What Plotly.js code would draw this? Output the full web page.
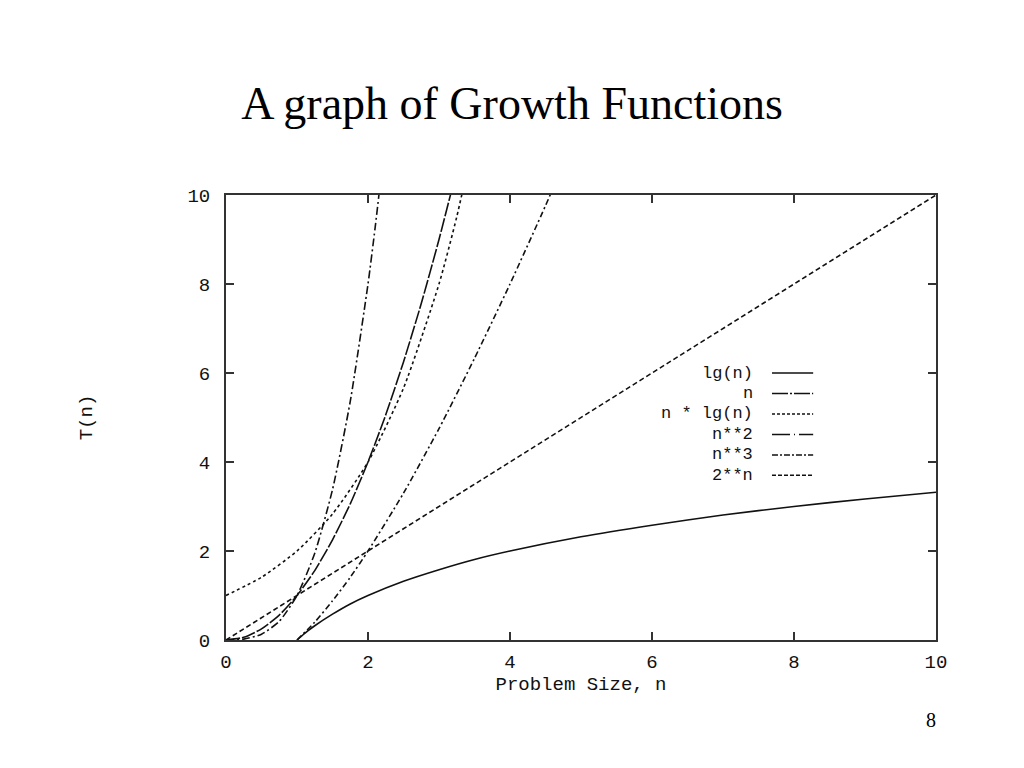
<!DOCTYPE html>
<html>
<head>
<meta charset="utf-8">
<script src="https://cdn.plot.ly/plotly-3.0.1.min.js"></script>
<style>
  html, body { margin: 0; padding: 0; background: #fff; }
  #chart { width: 1024px; height: 768px; }
</style>
</head>
<body>
<div id="chart"></div>
<script>
// ---- data ----
const seriesNames = ["lg(n)", "n", "n * lg(n)", "n**2", "n**3", "2**n"];

const lgX = [1, 1.1, 1.25, 1.5, 1.75, 2, 2.5, 3, 3.5, 4, 5, 6, 7, 8, 9, 10];
const lgY = [0, 0.14, 0.32, 0.58, 0.81, 1, 1.32, 1.58, 1.81, 2, 2.32, 2.58, 2.81, 3, 3.17, 3.32];

const linX = [0, 10];
const linY = [0, 10];

const nlgX = [1, 1.25, 1.5, 1.75, 2, 2.5, 3, 3.5, 4, 4.5, 4.7];
const nlgY = [0, 0.40, 0.88, 1.41, 2, 3.30, 4.75, 6.33, 8, 9.76, 10.5];

const sqX = [0, 0.25, 0.5, 0.75, 1, 1.25, 1.5, 1.75, 2, 2.25, 2.5, 2.75, 3, 3.25];
const sqY = [0, 0.06, 0.25, 0.56, 1, 1.56, 2.25, 3.06, 4, 5.06, 6.25, 7.56, 9, 10.56];

const cubX = [0, 0.25, 0.5, 0.75, 1, 1.25, 1.5, 1.75, 2, 2.1, 2.2];
const cubY = [0, 0.02, 0.13, 0.42, 1, 1.95, 3.38, 5.36, 8, 9.26, 10.65];

const expX = [0, 0.5, 1, 1.5, 2, 2.5, 3, 3.25, 3.5];
const expY = [1, 1.41, 2, 2.83, 4, 5.66, 8, 9.51, 11.31];

const xTicks = [0, 2, 4, 6, 8, 10];
const yTicks = [0, 2, 4, 6, 8, 10];

// ---- styles ----
const dashes = ["solid", "5px,3px", "6px,3px,2px,3px", "14px,2px", "8px,3px,2px,3px", "3px,3px"];
const legendDashes = ["solid", "16px,2px,2px,2px", "3px,2px", "18px,4px,1px,4px", "6px,2px,2px,2px", "4px,2px"];

const xs = [lgX, linX, nlgX, sqX, cubX, expX];
const ys = [lgY, linY, nlgY, sqY, cubY, expY];

const traces = seriesNames.map((name, i) => ({
  type: "scatter",
  mode: "lines",
  name: name,
  x: xs[i],
  y: ys[i],
  line: { color: "#111", width: 1.6, dash: dashes[i], shape: "spline", smoothing: 0.6 },
  showlegend: false,
  hoverinfo: "skip"
}));

const mono = "Liberation Mono, DejaVu Sans Mono, monospace";

// legend (text right-aligned, sample line to the right)
const rowTop = 0.600, rowStep = 0.046;
const annotations = seriesNames.map((name, i) => ({
  xref: "paper", yref: "paper",
  x: 0.743, y: rowTop - i * rowStep,
  xanchor: "right", yanchor: "middle",
  text: name, showarrow: false,
  borderpad: 0,
  font: { family: mono, size: 17, color: "#111" }
}));
const shapes = seriesNames.map((name, i) => ({
  type: "line", xref: "paper", yref: "paper",
  x0: 0.769, x1: 0.827,
  y0: rowTop - i * rowStep, y1: rowTop - i * rowStep,
  line: { color: "#111", width: 1.5, dash: legendDashes[i] }
}));

annotations.push({
  xref: "paper", yref: "paper",
  x: 1.0, y: -0.18,
  xanchor: "left", yanchor: "middle",
  xshift: -12,
  text: "8", showarrow: false,
  font: { family: "Liberation Serif, Times New Roman, serif", size: 20, color: "#000" }
});

const axisCommon = {
  range: [0, 10],
  showgrid: false,
  zeroline: false,
  showline: true,
  linecolor: "#333",
  linewidth: 2,
  mirror: "allticks",
  ticks: "inside",
  ticklen: 8,
  tickwidth: 1.5,
  tickcolor: "#333",
  tickfont: { family: mono, size: 19, color: "#111" },
  fixedrange: true
};

const layout = {
  width: 1024,
  height: 768,
  paper_bgcolor: "#fff",
  plot_bgcolor: "#fff",
  margin: { l: 226, r: 88, t: 195, b: 128 },
  title: {
    text: "A graph of Growth Functions",
    font: { family: "Liberation Serif, Times New Roman, serif", size: 46, color: "#000" },
    x: 0.5, xref: "container", xanchor: "center",
    y: 0.866, yref: "container", yanchor: "middle"
  },
  xaxis: Object.assign({}, axisCommon, {
    tickvals: xTicks,
    ticktext: xTicks.map(String),
    ticklabelstandoff: 3,
    title: { text: "Problem Size, n", font: { family: mono, size: 19, color: "#111" }, standoff: 0 }
  }),
  yaxis: Object.assign({}, axisCommon, {
    tickvals: yTicks,
    ticktext: yTicks.map(String),
    ticklabelstandoff: 10,
    title: { text: "T(n)", font: { family: mono, size: 19, color: "#111" }, standoff: 90 }
  }),
  showlegend: false,
  annotations: annotations,
  shapes: shapes
};

Plotly.newPlot("chart", traces, layout, { displayModeBar: false, staticPlot: true });
</script>
</body>
</html>
